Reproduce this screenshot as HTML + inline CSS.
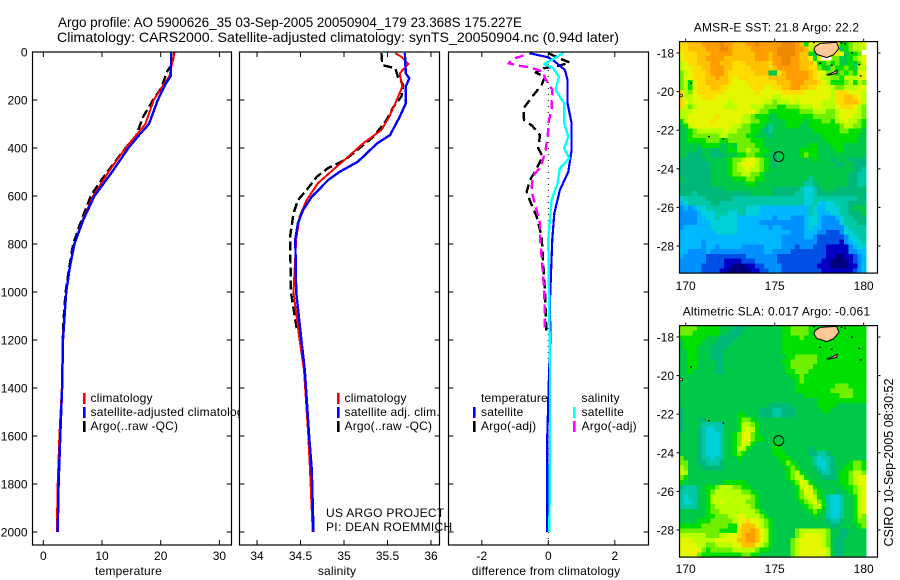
<!DOCTYPE html>
<html lang="en">
<head>
<meta charset="utf-8">
<title>Argo profile 5900626_35</title>
<style>
html,body{margin:0;padding:0;background:#fff;}
svg{display:block;}
text{font-family:"Liberation Sans",sans-serif;fill:#000;}
.wide{letter-spacing:0.2px;}
.wider{letter-spacing:0.3px;}
</style>
</head>
<body>
<svg id="chart" width="900" height="580" viewBox="0 0 900 580" xmlns="http://www.w3.org/2000/svg">
  <rect x="0" y="0" width="900" height="580" fill="#fff"/>
  <text x="58" y="27" font-size="14" textLength="464" lengthAdjust="spacingAndGlyphs">Argo profile: AO 5900626_35 03-Sep-2005 20050904_179 23.368S 175.227E</text>
  <text x="57" y="42" font-size="14" textLength="562" lengthAdjust="spacingAndGlyphs">Climatology: CARS2000. Satellite-adjusted climatology: synTS_20050904.nc (0.94d later)</text>
  <g id="layer"></g>
</svg>
<script>
// ---- Shared depth axis ----
const depthTicks = [0, 200, 400, 600, 800, 1000, 1200, 1400, 1600, 1800, 2000];

// ---- Temperature panel ----
const tempTicks = [0, 10, 20, 30];
const tempClimDepth = [0, 50, 100, 130, 200, 300, 350, 400, 500, 600, 700, 800, 900, 1000, 1200, 1400, 1600, 1800, 2000];
const tempClim = [22.4, 21.9, 21.5, 20.7, 18.8, 17.4, 15.7, 14.0, 11.1, 8.5, 6.7, 5.3, 4.5, 3.9, 3.3, 3.15, 2.75, 2.45, 2.3];
const tempSatDepth = [0, 100, 130, 200, 300, 350, 400, 500, 600, 700, 800, 900, 1000, 1200, 1400, 1600, 1800, 2000];
const tempSat = [21.75, 21.75, 20.9, 19.5, 18.0, 16.2, 14.5, 11.7, 8.7, 6.8, 5.3, 4.5, 3.9, 3.35, 3.2, 2.9, 2.6, 2.45];
const tempArgoDepth = [0, 50, 80, 150, 200, 270, 350, 400, 500, 550, 600, 700, 800, 900, 1000, 1100, 1200];
const tempArgo = [22.3, 22.0, 21.1, 20.1, 18.7, 17.0, 15.8, 14.0, 10.9, 9.4, 8.1, 6.5, 5.1, 4.4, 3.8, 3.5, 3.3];

// ---- Salinity panel ----
const salTicks = [34, 34.5, 35, 35.5, 36];
const salClimDepth = [5, 20, 50, 89, 144, 214, 270, 325, 381, 436, 492, 547, 617, 686, 779, 1000, 1200, 1325, 1600, 1750, 2000];
const salClim = [35.59, 35.66, 35.74, 35.64, 35.67, 35.59, 35.52, 35.43, 35.22, 35.05, 34.87, 34.70, 34.57, 34.49, 34.45, 34.42, 34.49, 34.54, 34.59, 34.61, 34.64];
const salSatDepth = [5, 89, 110, 144, 214, 270, 346, 381, 457, 499, 533, 603, 658, 714, 779, 1000, 1200, 1325, 1603, 1742, 2000];
const salSat = [35.70, 35.71, 35.75, 35.71, 35.71, 35.64, 35.53, 35.38, 35.16, 34.95, 34.82, 34.63, 34.53, 34.47, 34.44, 34.45, 34.51, 34.55, 34.60, 34.63, 34.65];
const salArgoDepth = [5, 54, 61, 68, 103, 137, 186, 228, 283, 353, 394, 450, 483, 519, 575, 617, 672, 769, 1000, 1160];
const salArgo = [35.43, 35.44, 35.51, 35.59, 35.62, 35.68, 35.66, 35.57, 35.49, 35.34, 35.20, 35.01, 34.82, 34.69, 34.57, 34.47, 34.42, 34.38, 34.39, 34.46];

// ---- Difference panel ----
const diffTicks = [-2, 0, 2];
const diffTempSatDepth = [5, 22, 40, 75, 117, 214, 297, 408, 499, 575, 672, 779, 1033, 1200, 1400, 1600, 2000];
const diffTempSat = [-0.57, 0, 0.2, 0.5, 0.58, 0.58, 0.7, 0.7, 0.6, 0.35, 0.18, 0.12, 0.05, 0.06, 0.01, -0.03, -0.03];
const diffSalSatDepth = [5, 33, 50, 68, 103, 158, 214, 297, 353, 401, 443, 485, 547, 617, 779, 1300, 1700, 2000];
const diffSalSat = [0.45, 0.1, -0.12, 0.15, 0.32, 0.22, 0.48, 0.48, 0.6, 0.48, 0.63, 0.35, 0.28, 0.1, 0, 0.05, 0.05, 0.03];
const diffTempArgoDepth = [5, 30, 44, 58, 68, 86, 103, 137, 186, 235, 283, 308, 346, 401, 436, 499, 533, 582, 631, 686, 769, 1000, 1160];
const diffTempArgo = [0, 0.4, 0.65, 0.3, -0.15, -0.38, -0.1, -0.2, -0.48, -0.75, -0.73, -0.48, -0.25, -0.3, -0.17, -0.4, -0.55, -0.65, -0.52, -0.35, -0.2, -0.1, -0.06];
const diffSalArgoDepth = [15, 26, 47, 58, 64, 82, 110, 158, 241, 283, 353, 408, 478, 519, 582, 645, 714, 769, 1000, 1160];
const diffSalArgo = [-0.75, -1.0, -1.2, -0.85, -0.55, -0.15, -0.1, 0.12, 0.1, 0.02, -0.02, -0.08, -0.22, -0.48, -0.5, -0.38, -0.25, -0.25, -0.12, -0.1];

// ---- Maps ----
const mapLonTicks = [170, 175, 180];
const mapLatTicks = [18, 20, 22, 24, 26, 28];
const colorLevels = {'0':'#00007f','1':'#0000c4','2':'#0050e8','3':'#0090ff','4':'#00b8ff','5':'#00d0d8','6':'#00c8a4','7':'#00b878','8':'#00c848','9':'#00e000','a':'#70f000','b':'#b8ff00','c':'#e4f600','g':'#ffdc00','d':'#ffc000','e':'#ff9c00','f':'#ee8800'};
const sstGrid = [
"ggdddeeeefeedddeefeee"+"eefffed9ccccccc99abbc",
"ggddddeeeffeddddeeeee"+"effffeedbcccccc89abbb",
"cgggdddeeeeedddddeeed"+"effffedd98cccccc899ac",
"cgggddeeeedddddddeeed"+"eeffeeddc9cccaa889abc",
"bcggdddeedddgggdddddg"+"eeffeedddc99a9a8898ac",
"bccggddeeeddggggddddg"+"deeeeeddgga98a99a98bb",
"abcgggdeeedggggggddd8"+"8gdeeeeedgccaa9a9a9cc",
"accgggddeddgcgggggggd"+"dddeeeeedgcbbaa9bbbcc",
"ab9cggdddddgcccgggggg"+"gdddeeedddgcb999ab9ba",
"ab9cgggddggcccccgggcc"+"ggddeeddggcccbaabbbcc",
"gbacggggggcccccccgccc"+"ccgggggccccccbgggcccb",
"gbbccgggccccccccccccc"+"bbcccccccccccbggddgcb",
"gcbccccccccbcccccccbb"+"abbbcbcccccbbbggdddgb",
"gbabccccccbbbcccbbbaa"+"a99aaabbbccbbbcgggcba",
"bbbccccccccccccccbaa9"+"999999aaabbbaabccccba",
"bbccccccgcccccbba9998"+"899999999aaaaabcccbba",
"9bcccccgccccccbbaa998"+"88899998999aa9bbcbba9",
"89bcccccccccbbaa99986"+"888999889999999abbaa9",
"889abbbbbbcbbaaa99876"+"888888888999999aa9998",
"889aaaaaabbaaaa998887"+"888888888889999999988",
"889999aaa99aaaaa99988"+"888888888888999999988",
"8888899998898aaaa9988"+"888888889988899988888",
"8888788778899aabaa998"+"888888999988889988888",
"887778877788899aa9988"+"7888889a9988888888888",
"777777888889aabccba98"+"788888888988878887777",
"777777788889abcccba98"+"788888888888887788777",
"777777788889abbcbba98"+"888888888888888888776",
"777777788889aabbaa988"+"888888888888888887766",
"877777788888999aa9988"+"888888886888888887766",
"777777788888888998888"+"888888866788888887766",
"777777777788888888888"+"777777655678887777777",
"777677777777777788888"+"777776655677777777777",
"566666777777666666666"+"666666655666666666677",
"456666677666666666666"+"666666655654556667777",
"343455666666666555444"+"444444446544555667888",
"333345556665566555444"+"444444446544455667778",
"333344556555544444444"+"344433345543334566777",
"333344455555544444333"+"333333345543333566677",
"344444455555544444443"+"443333345443333356666",
"444444445555544444444"+"444433344433222355666",
"444444444444444444444"+"443333344322222235566",
"444443444444444444444"+"443333333322222134556",
"444443443444443333344"+"443332333222111113455",
"443333433333333333344"+"333322222222111113344",
"433333222222222333333"+"322222222222110011234",
"333333222211112223333"+"322222222221100001234",
"333332222211000112233"+"332222222211100001134",
"333332222110000011223"+"332222222221111111234"
];
const slaGrid = [
"aaaa99999888777888888"+"8899aaaa9999999999999",
"aaa999999887778888888"+"8899aaaa9999999999999",
"999999888777788888888"+"889999a99999999999999",
"899998887777888888888"+"889999999999999999999",
"899988877778888888888"+"889999999999999999999",
"889988877788888888888"+"889999999999999999999",
"889988877788888888888"+"88899aaaaa99999999999",
"889988887788888888888"+"8899aaaaaa99999999999",
"889988887788888888888"+"8889aaaaa999999999999",
"889888887788888888888"+"88899aaa9999999999999",
"888888888888888888888"+"888899a99999999999999",
"888888888888888888888"+"888889a99999999999999",
"888888888888888888888"+"88888999999999aaa9999",
"888888888888888888888"+"8888899999999aaaaa999",
"888888888888888888888"+"888888899999999aaa999",
"888888888888888888888"+"888888888899999999999",
"888888888888888888887"+"777788888899998888888",
"788888888888888888777"+"667778888889988888888",
"788888888888899888777"+"667778888888888888888",
"78887788888889aa98888"+"888888888888888888888",
"78888"+"66666"+"888"+"9bba"+"9888"+"888888888888888888888",
"78887"+"65566"+"888"+"9bcb"+"9888"+"888888888888888888888",
"88887"+"65556"+"889"+"acca"+"9888"+"888888888888888888888",
"88887"+"65556"+"889"+"acca"+"9988"+"888888888888888888888",
"88887"+"65556"+"889"+"acb9"+"8888"+"988888888888888888888",
"88887"+"65556"+"889"+"bb98"+"8888"+"998888887888888888888",
"88887"+"65556"+"889"+"a988"+"8888"+"999888887766788888888",
"a8887"+"66566"+"888"+"9888"+"8888"+"899988888656678888888",
"aa887"+"76667"+"888"+"8888"+"8888"+"889a98888655678889aa9",
"ba888"+"77777"+"888"+"8888"+"8888"+"8889a9888765678899aa9",
"bb888"+"88888"+"888"+"8888"+"8888"+"8889ab98887667899abba",
"a9888"+"88888"+"888"+"8888"+"8888"+"8889abb9888777899abcc",
"98888"+"88888"+"999"+"9988"+"8888"+"88889acb988888899abcc",
"76668"+"899ab"+"bba"+"a998"+"8888"+"888889bcb988888899abc",
"66668"+"89abb"+"bbb"+"baa9"+"8888"+"88888"+"9acca9"+"888"+"7"+"88"+"9abc",
"65668"+"89bbb"+"bbb"+"bbba"+"9888"+"88888"+"9abcb9"+"8"+"6556"+"88"+"9bc",
"65568"+"89bbc"+"bbb"+"bbaa"+"9888"+"888888"+"9abca9"+"6556"+"88"+"9bc",
"66668"+"89abb"+"bbb"+"bbba"+"9888"+"8888888"+"9abb9"+"6556"+"88"+"9bc",
"88888"+"89aab"+"bbb"+"bbbb"+"a988"+"888888889a98"+"6556"+"88"+"9bc",
"88888"+"899aa"+"abb"+"ccbb"+"ba98"+"888888888988"+"6556"+"88"+"9ba",
"88889"+"99aaa"+"aab"+"ccgc"+"cba9"+"888888888888"+"7667"+"88"+"9aa",
"99999"+"aaaaa"+"a99"+"cddd"+"cba9"+"888888888888"+"8778"+"88"+"89a",
"aaaaa"+"aaaa9"+"999"+"gdde"+"dcb9"+"88888abbbbbba88778888",
"bbbbb"+"baaab"+"bcc"+"gdee"+"dcb9"+"88888abccccba88778888",
"cccbb"+"bbbcc"+"ccc"+"ddee"+"dcb9"+"8888abcccccba87788888",
"ccccb"+"baabb"+"bbc"+"cddd"+"cba9"+"8888abcccccba87788888",
"ccccc"+"a9aaa"+"aab"+"bbbb"+"a998"+"8888abccccccb87788888",
"cccca"+"99999"+"999"+"9aa9"+"9888"+"8888abccccccb87788888"
];
const vitiLon = [177.27, 177.55, 178.48, 178.61, 178.3, 177.92, 177.36, 177.21];
const vitiLat = [17.67, 17.5, 17.45, 17.76, 18.1, 18.24, 18.07, 17.84];
const kadavuLon = [177.92, 178.3, 178.52, 178.48, 178.1];
const kadavuLat = [19.14, 19.0, 18.88, 19.05, 19.14];
const specksLon = [170.25, 171.26, 172.06, 177.5, 179.78, 179.7, 178.9, 179.3, 177.15, 178.7, 178.15];
const specksLat = [19.52, 22.3, 22.42, 18.5, 19.15, 18.56, 17.5, 17.97, 17.42, 17.45, 18.6];
const gapLon = [177.6, 179.9];
const gapLat = [18.2, 17.85];
const gapWidths = [0.6, 0.25];
const gapHeights = [0.17, 0.25];

// ---- Drawing helpers ----
const NS = 'http://www.w3.org/2000/svg';
const layer = document.getElementById('layer');
function add(parent, tag, name, attrs, txt) {
  const el = document.createElementNS(NS, tag);
  for (const k in attrs) el.setAttribute(k, attrs[k]);
  
  
  if (txt !== undefined) el.textContent = txt;
  parent.appendChild(el);
  return el;
}
function depthY(d) { return 52 + d * 0.24; }
function makeLine(g, name, depths, values, xf, color, width, dash) {
  const pts = depths.map((d, i) => xf(values[i]).toFixed(1) + ',' + depthY(d).toFixed(1)).join(' ');
  const attrs = {points: pts, fill: 'none', stroke: color, 'stroke-width': width, 'stroke-linejoin': 'round', 'shape-rendering': 'crispEdges'};
  if (dash) attrs['stroke-dasharray'] = dash;
  return add(g, 'polyline', name, attrs);
}
function profilePanel(name, left, right, ticks, xf, fmt, xTitle, titleX, showDepth) {
  const g = add(layer, 'g', name, {});
  add(g, 'rect', name + '-background', {x: left, y: 52, width: right - left, height: 493, fill: '#fff'});
  return {g, left, right, ticks, xf, fmt, xTitle, titleX, showDepth, name};
}
function finishPanel(p) {
  const g = p.g;
  add(g, 'rect', p.name + '-frame', {x: p.left, y: 52, width: p.right - p.left, height: 493, fill: 'none', stroke: '#000', 'stroke-width': 1.2});
  depthTicks.forEach(d => {
    const y = depthY(d);
    add(g, 'line', 'depth-tick', {x1: p.left, x2: p.left + 5, y1: y, y2: y, stroke: '#000'});
    add(g, 'line', 'depth-tick', {x1: p.right - 5, x2: p.right, y1: y, y2: y, stroke: '#000'});
    if (p.showDepth) add(g, 'text', 'depth-label', {x: 27.5, y: y + 4.5, 'font-size': 12, 'text-anchor': 'end'}, String(d));
  });
  p.ticks.forEach(v => {
    const x = p.xf(v);
    add(g, 'line', 'x-tick', {x1: x, x2: x, y1: 52, y2: 57, stroke: '#000'});
    add(g, 'line', 'x-tick', {x1: x, x2: x, y1: 540, y2: 545, stroke: '#000'});
    add(g, 'text', 'x-label', {x: x, y: 560, 'font-size': 12, 'text-anchor': 'middle'}, String(v));
  });
  add(g, 'text', 'x-axis-title', {x: p.titleX, y: 575, 'font-size': 12, 'text-anchor': 'middle', 'class': 'wide'}, p.xTitle);
}
function legendEntry(g, barX, textX, y, color, label) {
  if (color) add(g, 'rect', 'legend-swatch', {x: barX, y: y - 5, width: 2.6, height: 11, fill: color});
  add(g, 'text', 'legend-entry', {x: textX, y: y + 4, 'font-size': 12, 'class': 'wide'}, label);
}

// ---- Panel 1: temperature ----
const xT = v => 43.3 + 5.87 * v;
const p1 = profilePanel('temperature-panel', 32.5, 231.5, tempTicks, xT, String, 'temperature', 128.5, true);
makeLine(p1.g, 'temperature-argo-line', tempArgoDepth, tempArgo, xT, '#000', 2.4, '9 4');
makeLine(p1.g, 'temperature-climatology-line', tempClimDepth, tempClim, xT, '#f00', 2);
makeLine(p1.g, 'temperature-satellite-line', tempSatDepth, tempSat, xT, '#00f', 2.4);
finishPanel(p1);
legendEntry(p1.g, 83, 90.5, 398, '#f00', 'climatology');
legendEntry(p1.g, 83, 90.5, 412, '#00f', 'satellite-adjusted climatology');
legendEntry(p1.g, 83, 90.5, 426, '#000', 'Argo(..raw -QC)');

// ---- Panel 2: salinity ----
const xS = v => 257 + 87 * (v - 34);
const p2 = profilePanel('salinity-panel', 239.5, 439.5, salTicks, xS, String, 'salinity', 337, false);
makeLine(p2.g, 'salinity-argo-line', salArgoDepth, salArgo, xS, '#000', 2.4, '9 4');
makeLine(p2.g, 'salinity-climatology-line', salClimDepth, salClim, xS, '#f00', 2);
makeLine(p2.g, 'salinity-satellite-line', salSatDepth, salSat, xS, '#00f', 2.4);
finishPanel(p2);
legendEntry(p2.g, 337, 344.5, 398, '#f00', 'climatology');
legendEntry(p2.g, 337, 344.5, 412, '#00f', 'satellite adj. clim.');
legendEntry(p2.g, 337, 344.5, 426, '#000', 'Argo(..raw -QC)');

// ---- Panel 3: differences ----
const xD = v => 548.3 + 33.25 * v;
const p3 = profilePanel('difference-panel', 448.5, 648.5, diffTicks, xD, String, 'difference from climatology', 546, false);
add(p3.g, 'line', 'zero-reference-line', {x1: xD(0), x2: xD(0), y1: 52, y2: 545, stroke: '#000', 'stroke-dasharray': '1 5'});
makeLine(p3.g, 'difference-temperature-argo-line', diffTempArgoDepth, diffTempArgo, xD, '#000', 2.4, '9 5');
makeLine(p3.g, 'difference-salinity-argo-line', diffSalArgoDepth, diffSalArgo, xD, '#f0f', 2.4, '9 5');
makeLine(p3.g, 'difference-temperature-satellite-line', diffTempSatDepth, diffTempSat, xD, '#00f', 2.2);
makeLine(p3.g, 'difference-salinity-satellite-line', diffSalSatDepth, diffSalSat, xD, '#0ff', 2.4);
finishPanel(p3);
legendEntry(p3.g, 473, 481, 398, null, 'temperature');
legendEntry(p3.g, 473, 481, 412, '#00f', 'satellite');
legendEntry(p3.g, 473, 481, 426, '#000', 'Argo(-adj)');
legendEntry(p3.g, 573, 581.5, 398, null, 'salinity');
legendEntry(p3.g, 573, 581.5, 412, '#0ff', 'satellite');
legendEntry(p3.g, 573, 581.5, 426, '#f0f', 'Argo(-adj)');

// ---- Credits over the panels ----
add(layer, 'text', 'project-credit', {x: 326, y: 517, 'font-size': 12, 'class': 'wider'}, 'US ARGO PROJECT');
add(layer, 'text', 'pi-credit', {x: 326, y: 531, 'font-size': 12, 'class': 'wider'}, 'PI: DEAN ROEMMICH');

// ---- Maps ----
function drawMap(name, top, grid, title, titleY, labelY, showGaps) {
  const g = add(layer, 'g', name, {});
  const left = 679.5, right = 877.5, height = 231.5;
  const lonX = lon => 685.7 + 17.8 * (lon - 170);
  const latY = lat => top + 11.4 + 19.3 * (lat - 18);
  const cellW = 0.25;
  const lon0 = 169.64, lat0 = 17.41;
  grid.forEach((row, r) => {
    for (let c = 0; c < row.length; c++) {
      const x0 = lonX(lon0 + c * cellW), x1 = lonX(lon0 + (c + 1) * cellW);
      const y0 = latY(lat0 + r * cellW), y1 = latY(lat0 + (r + 1) * cellW);
      add(g, 'rect', name + '-cell', {x: x0.toFixed(2), y: y0.toFixed(2), width: (x1 - x0 + 0.3).toFixed(2), height: (y1 - y0 + 0.3).toFixed(2), fill: colorLevels[row[c]], 'shape-rendering': 'crispEdges'});
    }
  });
  if (showGaps) gapLon.forEach((l, i) => add(g, 'rect', 'missing-data-patch', {x: lonX(l), y: latY(gapLat[i]), width: gapWidths[i] * 17.8, height: gapHeights[i] * 19.3, fill: '#fff'}));
  const poly = (lons, lats, fill, n) => add(g, 'polygon', n, {
    points: lons.map((l, i) => lonX(l).toFixed(1) + ',' + latY(lats[i]).toFixed(1)).join(' '),
    fill: fill, stroke: '#000', 'stroke-width': 1
  });
  poly(vitiLon, vitiLat, '#ffc896', 'viti-levu-island');
  poly(kadavuLon, kadavuLat, '#ffc896', 'vanua-island');
  specksLon.forEach((l, i) => add(g, 'rect', 'small-island', {x: lonX(l).toFixed(1), y: latY(specksLat[i]).toFixed(1), width: 1.8, height: 1.4, fill: '#000'}));
  add(g, 'circle', 'islet-marker', {cx: lonX(169.74), cy: latY(20.2), r: 1.4, fill: '#ffc896', stroke: '#000', 'stroke-width': 0.7});
  add(g, 'circle', 'float-position-marker', {cx: lonX(175.227), cy: latY(23.368), r: 5, fill: 'none', stroke: '#000', 'stroke-width': 1});
  add(g, 'rect', name + '-frame', {x: left, y: top, width: right - left, height: height, fill: 'none', stroke: '#000', 'stroke-width': 1.2});
  mapLonTicks.forEach(l => {
    const x = lonX(l);
    add(g, 'line', 'longitude-tick', {x1: x, x2: x, y1: top - 3, y2: top, stroke: '#000'});
    add(g, 'text', 'longitude-label', {x: x, y: labelY, 'font-size': 12, 'text-anchor': 'middle'}, String(l));
  });
  mapLatTicks.forEach(l => {
    const y = latY(l);
    add(g, 'line', 'latitude-tick', {x1: left - 3, x2: left, y1: y, y2: y, stroke: '#000'});
    add(g, 'line', 'latitude-tick', {x1: right, x2: right + 3, y1: y, y2: y, stroke: '#000'});
    add(g, 'text', 'latitude-label', {x: 674, y: y + 4.5, 'font-size': 12, 'text-anchor': 'end'}, '-' + l);
  });
  add(g, 'text', name + '-title', {x: 776.5, y: titleY, 'font-size': 12, 'text-anchor': 'middle', 'class': 'wide'}, title);
}
drawMap('sst-map', 41.6, sstGrid, 'AMSR-E SST: 21.8 Argo: 22.2', 31.5, 290, true);
drawMap('sla-map', 325.6, slaGrid, 'Altimetric SLA: 0.017 Argo: -0.061', 315.5, 573, false);
add(layer, 'text', 'timestamp-label', {transform: 'translate(893,546.5) rotate(-90)', 'font-size': 12.5, textLength: 168, lengthAdjust: 'spacingAndGlyphs'}, 'CSIRO 10-Sep-2005 08:30:52');
</script>
</body>
</html>
